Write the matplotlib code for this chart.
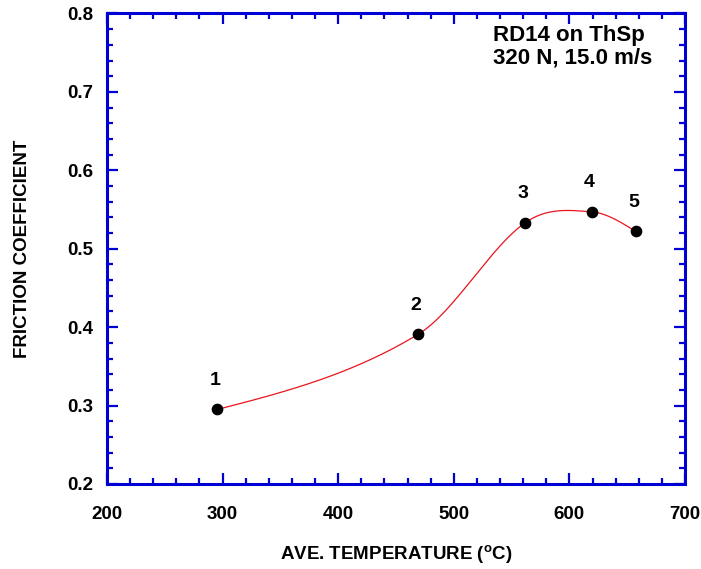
import matplotlib
matplotlib.use('Agg')
import matplotlib.pyplot as plt
from matplotlib.ticker import MultipleLocator
import numpy as np

# data
temps = [295.4, 469.3, 561.6, 619.3, 657.4]
friction = [0.295, 0.391, 0.533, 0.547, 0.522]
point_labels = ['1', '2', '3', '4', '5']

plt.rcParams['font.family'] = ['Liberation Sans', 'DejaVu Sans']
plt.rcParams['font.weight'] = 'bold'
plt.rcParams['mathtext.fontset'] = 'custom'
plt.rcParams['mathtext.rm'] = 'Liberation Sans:bold'
plt.rcParams['mathtext.bf'] = 'Liberation Sans:bold'

blue = '#0000d4'


def smooth_curve(x, y, n_per_seg=80):
    # Catmull-Rom style Hermite curve through the points, free (natural) ends
    x = np.asarray(x, float)
    y = np.asarray(y, float)
    n = len(x)
    m = np.empty(n)
    for i in range(1, n - 1):
        m[i] = (y[i + 1] - y[i - 1]) / (x[i + 1] - x[i - 1])
    s0 = (y[1] - y[0]) / (x[1] - x[0])
    s1 = (y[-1] - y[-2]) / (x[-1] - x[-2])
    m[0] = (3 * s0 - m[1]) / 2
    m[-1] = (3 * s1 - m[-2]) / 2
    xs_all, ys_all = [], []
    for i in range(n - 1):
        h = x[i + 1] - x[i]
        t = np.linspace(0, 1, n_per_seg)
        h00 = 2 * t ** 3 - 3 * t ** 2 + 1
        h10 = t ** 3 - 2 * t ** 2 + t
        h01 = -2 * t ** 3 + 3 * t ** 2
        h11 = t ** 3 - t ** 2
        xs_all.append(x[i] + t * h)
        ys_all.append(h00 * y[i] + h10 * h * m[i] + h01 * y[i + 1] + h11 * h * m[i + 1])
    return np.concatenate(xs_all), np.concatenate(ys_all)


fig = plt.figure(figsize=(7.01, 5.69), dpi=100)
ax = fig.add_axes([0.1526, 0.1494, 0.8246, 0.8269])

cx, cy = smooth_curve(temps, friction)
ax.plot(cx, cy, color='#e8141e', linewidth=0.9)
ax.plot(temps, friction, 'o', color='black', markersize=7.4)

for t, f, lab in zip(temps, friction, point_labels):
    ax.annotate(lab, (t, f), xytext=(-1.5, 21), textcoords='offset points',
                ha='center', va='center', fontsize=14, fontweight='bold')

ax.text(0.667, 0.929, 'RD14 on ThSp\n320 N, 15.0 m/s', transform=ax.transAxes,
        ha='left', va='center', fontsize=16, fontweight='bold', linespacing=1.1)

ax.set_xlim(200, 700)
ax.set_ylim(0.2, 0.8)
ax.xaxis.set_major_locator(MultipleLocator(100))
ax.xaxis.set_minor_locator(MultipleLocator(20))
ax.yaxis.set_major_locator(MultipleLocator(0.1))
ax.yaxis.set_minor_locator(MultipleLocator(0.02))

for s in ax.spines.values():
    s.set_color(blue)
    s.set_linewidth(2.2)
ax.tick_params(which='both', direction='in', top=True, right=True, color=blue, width=1.6)
ax.tick_params(which='major', length=8)
ax.tick_params(which='minor', length=4.5)
ax.tick_params(axis='x', which='major', pad=16, labelsize=13.5)
ax.tick_params(axis='y', which='major', pad=10, labelsize=13.5)
for lbl in ax.get_xticklabels() + ax.get_yticklabels():
    lbl.set_fontweight('bold')

ax.set_xlabel(r'AVE. TEMPERATURE ($^{\mathrm{o}}$C)', fontsize=13.5, fontweight='bold', va='center')
ax.set_ylabel('FRICTION COEFFICIENT', fontsize=13.5, fontweight='bold', va='center')
ax.xaxis.set_label_coords(0.5, -0.151)
ax.yaxis.set_label_coords(-0.146, 0.5)

fig.savefig('out.png', dpi=100)
